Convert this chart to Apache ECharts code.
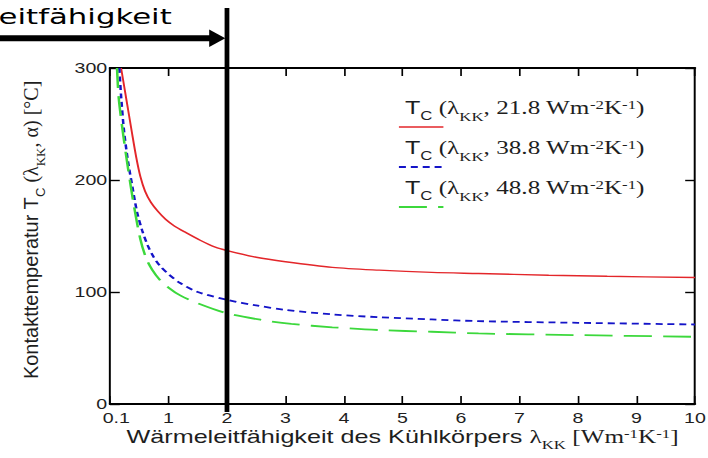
<!DOCTYPE html>
<html><head><meta charset="utf-8">
<script src="https://cdn.jsdelivr.net/npm/echarts@6/dist/echarts.min.js"></script>
<style>
html,body{margin:0;padding:0;background:#fff;overflow:hidden;width:708px;height:458px;}
#wrap{width:708px;height:458px;overflow:hidden;position:relative;background:#fff;}
#c{width:506px;height:458px;transform:scaleX(1.39921);transform-origin:0 0;}
</style></head><body><div id="wrap"><div id="c"></div></div>
<script>
// ---- data ----
const xTickLabels = ['0.1','1','2','3','4','5','6','7','8','9','10'];
const yTickValues = [0, 100, 200, 300];
const legendValues = ['21.8', '38.8', '48.8'];

const lamRed   = [0.19, 0.28, 0.37, 0.45, 0.52, 0.60, 0.70, 0.82, 0.95, 1.1, 1.3, 1.55, 1.8, 2.0, 2.5, 3.0, 3.8, 4.6, 5.5, 6.3, 7.5, 8.5, 10];
const tempRed  = [300, 272, 244, 220, 203, 190, 180, 172, 165, 159, 153, 146, 140, 137, 131, 127, 122, 119.5, 117.5, 116.5, 115, 114, 113];

const lamBlue  = [0.16, 0.19, 0.24, 0.31, 0.38, 0.46, 0.55, 0.65, 0.75, 0.86, 1.0, 1.2, 1.5, 2.0, 2.5, 3.0, 3.8, 4.6, 5.5, 6.3, 8.0, 10];
const tempBlue = [300, 275, 244, 216, 195, 172, 155, 141, 131, 123, 116, 108, 100, 93, 88, 84, 80, 77.5, 75.5, 74, 72.5, 71];

const lamGreen  = [0.12, 0.15, 0.23, 0.31, 0.40, 0.52, 0.62, 0.72, 0.85, 1.0, 1.2, 1.5, 2.0, 2.6, 3.1, 3.8, 4.6, 5.5, 6.3, 8.0, 10];
const tempGreen = [300, 273, 239, 210, 180, 147, 130, 120, 111, 104, 97, 90, 81, 75, 71.5, 68.5, 66, 64.5, 63, 61.5, 60];

const markerLambda = 2;
const arrowText = 'eitfähigkeit';

// ---- styles ----
const S = 708 / 506;
const SANS = 'Liberation Sans, Arial, sans-serif';
const SERIF = 'Liberation Serif, Times New Roman, serif';
const TXT = '#1e1e1e';
const styles = [
  {color: '#e3262a', width: 1.4, type: 'solid'},
  {color: '#1414c8', width: 1.8, type: [5, 3.5]},
  {color: '#3cd83c', width: 1.8, type: [20, 8]}
];

function zip(a, b) { return a.map((v, i) => [v, b[i]]); }

const chart = echarts.init(document.getElementById('c'), null, {renderer: 'svg'});

const axisCommonX = {
  type: 'value', min: 0, max: 10, interval: 1,
  axisLine: {show: true, onZero: false, lineStyle: {color: '#000', width: 1.8}},
  axisTick: {show: true, inside: true, length: 8, lineStyle: {color: '#000', width: 1.2}},
  splitLine: {show: false}
};
const axisCommonY = {
  type: 'value', min: 0, max: 300, interval: 100,
  axisLine: {show: true, onZero: false, lineStyle: {color: '#000', width: 1.4}},
  axisTick: {show: true, inside: true, length: 7, lineStyle: {color: '#000', width: 1.4}},
  splitLine: {show: false}
};

const option = {
  animation: false,
  backgroundColor: '#fff',
  grid: {left: 78.6, right: 9.3, top: 68, bottom: 54, containLabel: false, outerBoundsMode: 'none'},
  xAxis: [
    Object.assign({}, axisCommonX, {
      position: 'bottom',
      axisLabel: {
        color: TXT, fontSize: 14, fontFamily: SANS, margin: 7,
        formatter: v => {
          const t = xTickLabels[Math.round(v)];
          return v === 0 ? '{first|' + t + '}' : t;
        },
        rich: {first: {color: TXT, fontSize: 14, fontFamily: SANS, padding: [0, 0, 0, 9]}}
      },
      name: '{s|Wärmeleitfähigkeit des Kühlkörpers }{g|λ}{gs|KK}{g| [Wm}{gp|-1}{g|K}{gp|-1}{g|]}',
      nameLocation: 'middle', nameGap: 21, nameMoveOverlap: false,
      nameTextStyle: {
        rich: {
          s: {fontFamily: SANS, fontSize: 18, color: TXT, lineHeight: 24},
          g: {fontFamily: SERIF, fontSize: 18, color: TXT, lineHeight: 24},
          gs: {fontFamily: SERIF, fontSize: 12, color: TXT, height: 8, verticalAlign: 'bottom'},
          gp: {fontFamily: SERIF, fontSize: 12, color: TXT, height: 18, verticalAlign: 'top'}
        }
      }
    }),
    Object.assign({}, axisCommonX, {position: 'top', axisLabel: {show: false}})
  ],
  yAxis: [
    Object.assign({}, axisCommonY, {
      position: 'left',
      axisLabel: {
        color: TXT, fontSize: 14, fontFamily: SANS, margin: 2,
        formatter: v => yTickValues.indexOf(v) >= 0 ? String(v) : ''
      }
    }),
    Object.assign({}, axisCommonY, {position: 'right', axisLabel: {show: false}})
  ],
  series: [
    {data: zip(lamRed, tempRed)},
    {data: zip(lamBlue, tempBlue)},
    {data: zip(lamGreen, tempGreen)}
  ].map((s, i) => ({
    type: 'line', name: 'TC ' + legendValues[i], data: s.data,
    xAxisIndex: 0, yAxisIndex: 0,
    showSymbol: false, symbol: 'none', smooth: 0.3,
    clip: true, silent: true, z: 3,
    lineStyle: {color: styles[i].color, width: styles[i].width, type: styles[i].type}
  }))
};

chart.setOption(option);

const barX = chart.convertToPixel({xAxisIndex: 0}, markerLambda);
const legendX = 289.4;
const legendY0 = 108;
const legendStep = 40;

const legendRich = {
  t: {fontFamily: SANS, fontSize: 18, fill: TXT, lineHeight: 24},
  c: {fontFamily: SANS, fontSize: 12, fill: TXT, height: 8, verticalAlign: 'bottom'},
  s: {fontFamily: SERIF, fontSize: 18, fill: TXT, lineHeight: 24},
  k: {fontFamily: SERIF, fontSize: 12, fill: TXT, height: 6, verticalAlign: 'bottom'},
  p: {fontFamily: SERIF, fontSize: 12, fill: TXT, height: 18, verticalAlign: 'top'}
};

const graphic = [];
legendValues.forEach((val, i) => {
  const y = legendY0 + i * legendStep;
  graphic.push({
    type: 'text', x: legendX, y: y, z: 50,
    style: {
      text: '{t|T}{c|C}{s| (λ}{k|KK}{s|, ' + val + ' Wm}{p|-2}{s|K}{p|-1}{s|)}',
      align: 'left', verticalAlign: 'middle', rich: legendRich
    }
  });
  graphic.push({
    type: 'line', z: 50,
    shape: {x1: legendX - 4.3, y1: y + 19, x2: legendX + 27.5, y2: y + 19},
    style: {stroke: styles[i].color, lineWidth: styles[i].width, lineDash: styles[i].type === 'solid' ? null : styles[i].type}
  });
});

// y-axis title (rotated, counter-scaled so it is not stretched)
graphic.push({
  type: 'text', x: 22, y: 230, rotation: Math.PI / 2, scaleY: 1 / S, z: 50,
  style: {
    text: '{a|Kontakttemperatur T}{b|C}{c| (λ}{d|KK}{c|, α) [°C]}',
    align: 'center', verticalAlign: 'middle',
    rich: {
      a: {fontFamily: SANS, fontSize: 20, fill: TXT, lineHeight: 28},
      b: {fontFamily: SANS, fontSize: 13, fill: TXT, height: 9, verticalAlign: 'bottom'},
      c: {fontFamily: SERIF, fontSize: 20, fill: TXT, lineHeight: 28},
      d: {fontFamily: SERIF, fontSize: 13, fill: TXT, height: 9, verticalAlign: 'bottom'}
    }
  }
});

// marker bar at lambda = 2 and arrow
const barW = 3.4;
graphic.push({type: 'rect', z: 100, shape: {x: barX - barW / 2, y: 8, width: barW, height: 404}, style: {fill: '#000'}});
const tip = barX - barW / 2;
graphic.push({type: 'rect', z: 100, shape: {x: -3, y: 35.3, width: tip - 10 + 3, height: 6}, style: {fill: '#000'}});
graphic.push({type: 'polygon', z: 100, shape: {points: [[tip - 11, 29.5], [tip + 0.5, 38.3], [tip - 11, 47]]}, style: {fill: '#000'}});
graphic.push({
  type: 'text', x: -1, y: 16, z: 100,
  style: {text: arrowText, fontFamily: 'DejaVu Sans, Verdana, sans-serif', fontSize: 22, fill: '#000', align: 'left', verticalAlign: 'middle'}
});

chart.setOption({graphic: graphic});
</script>
</body></html>
